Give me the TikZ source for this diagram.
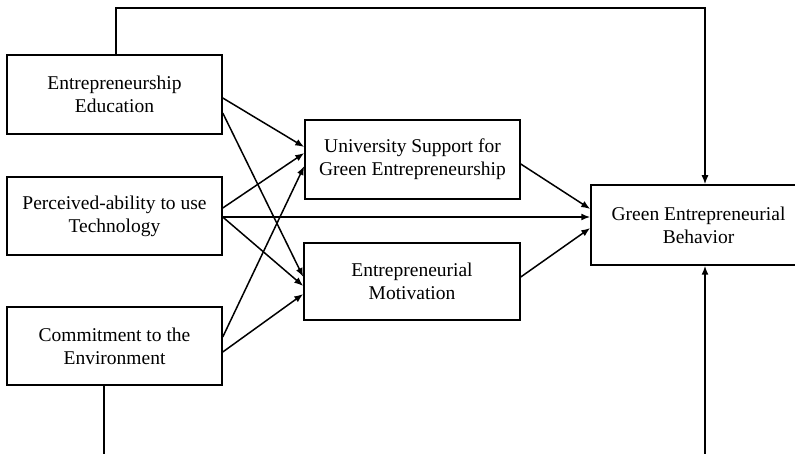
\documentclass[tikz,border=0pt]{standalone}
\usepackage{fontspec}
\setmainfont{Liberation Serif}
\usetikzlibrary{arrows.meta}
\begin{document}
\begin{tikzpicture}[x=1pt,y=-1pt,
  box/.style={draw,line width=1.5pt,rectangle,align=center,inner sep=0pt,
    font=\fontsize{19.5}{23}\selectfont,minimum width=215pt,minimum height=79pt},
  conn/.style={line width=1.5pt,-{Latex[length=9pt,width=7pt]}},
  plain/.style={line width=1.5pt}]
\useasboundingbox (0,0) rectangle (795,454);
\clip (0,0) rectangle (795,454);
\node[box] (ee) at (114.5,94.5) {Entrepreneurship\\Education};
\node[box,minimum height=78pt] (pt) at (114.5,216) {Perceived-ability to use\\Technology};
\node[box,minimum height=78pt] (ce) at (114.5,346) {Commitment to the\\Environment};
\node[box] (us) at (412.5,159.5) {University Support for\\Green Entrepreneurship};
\node[box,minimum width=216pt,minimum height=77pt] (em) at (412,281.5) {Entrepreneurial\\Motivation};
\node[box,minimum height=80pt] (geb) at (698.5,225) {Green Entrepreneurial\\Behavior};
\coordinate (tl) at (116,8);
\coordinate (tr) at (705,8);
\coordinate (bl) at (104,470);
\coordinate (br) at (705,470);
\draw[conn] ([yshift=-3.5pt]ee.east) -- ([yshift=12.5pt]us.west);
\draw[conn] ([yshift=-18.5pt]ee.east) -- ([yshift=4.5pt]em.west);
\draw[conn] ([yshift=8pt]pt.east) -- ([yshift=6.5pt]us.west);
\draw[conn] ([yshift=-1pt]pt.east) -- ([yshift=8pt]geb.west);
\draw[conn] ([yshift=-1pt]pt.east) -- ([yshift=-4.5pt]em.west);
\draw[conn] ([yshift=9pt]ce.east) -- ([yshift=-6.5pt]us.west);
\draw[conn] ([yshift=-6pt]ce.east) -- ([yshift=-12.5pt]em.west);
\draw[conn] ([yshift=-4.5pt]us.east) -- ([yshift=16pt]geb.west);
\draw[conn] ([yshift=4.5pt]em.east) -- ([yshift=-3pt]geb.west);
\draw[conn] ([xshift=1.5pt]ee.north) -- (tl) -- (tr) -- ([xshift=6.5pt]geb.north);
\draw[plain] ([xshift=-10.5pt]ce.south) -- (bl);
\draw[conn] (br) -- ([xshift=6.5pt]geb.south);
\end{tikzpicture}
\end{document}
